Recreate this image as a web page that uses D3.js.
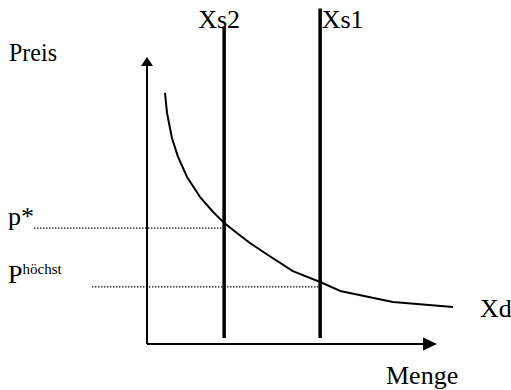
<!DOCTYPE html>
<html>
<head>
<meta charset="utf-8">
<script src="https://cdn.jsdelivr.net/npm/d3@7"></script>
</head>
<body style="margin:0;background:#fff">
<script>
// ---- data (in abstract units: Menge 0..100, Preis 0..100) ----
const demandQ = [6.2, 6.9, 8.6, 10.7, 13.8, 18.3, 22.8, 26.6, 31.0, 35.5, 41.7, 50.3, 59.7, 66.6, 84.8, 105.5];
const demandP = [87.5, 80.5, 71.8, 65.2, 58.2, 51.2, 46.0, 42.2, 38.7, 35.2, 31.0, 25.4, 21.6, 18.5, 14.6, 12.9];
const supplyNames = ["Xs2", "Xs1"];
const supplyQ = [26.6, 59.7];
const supplyTop = [110.6, 116.9];
const priceNames = ["p*", "P"];
const priceLevels = [40.4, 19.9];
const axisLabels = { y: "Preis", x: "Menge", demand: "Xd", sup: "höchst" };

const W = 511, H = 390;
const FONT = "Liberation Serif";
const svg = d3.select("body").append("svg").attr("width", W).attr("height", H)
  .style("display", "block");

const x = d3.scaleLinear().domain([0, 100]).range([147, 437]);
const y = d3.scaleLinear().domain([0, 100]).range([344, 57]);

// axes
svg.append("line").attr("x1", x(0)).attr("x2", x(100) - 12).attr("y1", y(0)).attr("y2", y(0))
  .attr("stroke", "#000").attr("stroke-width", 2);
svg.append("line").attr("x1", x(0)).attr("x2", x(0)).attr("y1", y(0)).attr("y2", y(100) + 8)
  .attr("stroke", "#000").attr("stroke-width", 2);
// arrowheads
svg.append("path")
  .attr("d", `M${x(100)},${y(0)} L${x(100) - 14},${y(0) - 6.5} L${x(100) - 14},${y(0) + 6.5} Z`)
  .attr("fill", "#000");
svg.append("path")
  .attr("d", `M${x(0)},${y(100)} L${x(0) - 6},${y(100) + 9} L${x(0) + 6},${y(100) + 9} Z`)
  .attr("fill", "#000");

// dotted price lines
const priceStart = [34, 92];
priceLevels.forEach((p, i) => {
  svg.append("line")
    .attr("x1", priceStart[i]).attr("x2", x(supplyQ[i]))
    .attr("y1", y(p)).attr("y2", y(p))
    .attr("stroke", "#000").attr("stroke-width", 1.3)
    .attr("stroke-dasharray", "1.4,1.6");
});

// supply lines
supplyQ.forEach((q, i) => {
  svg.append("line")
    .attr("x1", x(q)).attr("x2", x(q))
    .attr("y1", y(supplyTop[i])).attr("y2", y(2.1))
    .attr("stroke", "#000").attr("stroke-width", 3.5);
});

// demand curve
const pts = demandQ.map((q, i) => [x(q), y(demandP[i])]);
svg.append("path")
  .attr("d", d3.line()(pts))
  .attr("fill", "none").attr("stroke", "#000").attr("stroke-width", 2)
  .attr("stroke-linejoin", "round");

// labels
const fs = 26;
function label(tx, ty, s, anchor) {
  return svg.append("text").attr("x", tx).attr("y", ty)
    .attr("font-size", fs).style("font-family", FONT)
    .attr("text-anchor", anchor || "start").text(s);
}
label(9, 61, axisLabels.y).attr("textLength", 48).attr("lengthAdjust", "spacingAndGlyphs");
label(386, 384, axisLabels.x);
label(480, 317, axisLabels.demand);
label(x(supplyQ[0]) + 16, 28, supplyNames[0], "end");
label(x(supplyQ[1]) + 1.5, 28, supplyNames[1]);
label(8, y(priceLevels[0]) - 3, priceNames[0]);

const ph = svg.append("text").attr("x", 8).attr("y", y(priceLevels[1]) - 4)
  .attr("font-size", fs).style("font-family", FONT);
ph.append("tspan").text(priceNames[1]);
ph.append("tspan").attr("font-size", 15).attr("dy", -9).text(axisLabels.sup);
</script>
</body>
</html>
